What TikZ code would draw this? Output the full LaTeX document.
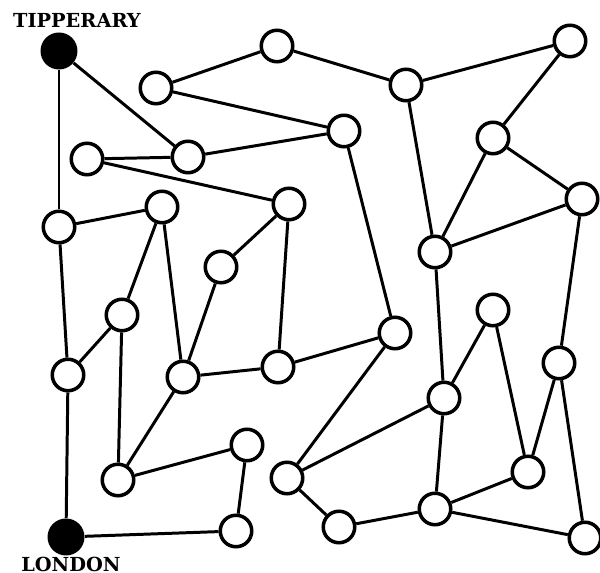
\documentclass[tikz,border=0pt]{standalone}
\usepackage{fontspec}
\usepackage{tikz}
\usetikzlibrary{positioning}
\newfontfamily\signfont{DejaVu Serif}

\begin{document}
\begin{tikzpicture}[
  x=0.02cm, y=-0.02cm,
  stop/.style={circle, draw=black, line width=2pt, fill=white, minimum size=0.63cm, inner sep=0pt},
  town/.style={circle, fill=black, minimum size=0.74cm, inner sep=0pt},
  lbl/.style={font=\signfont\fontsize{11}{11}\selectfont\bfseries, inner sep=0pt},
  road/.style={line width=1.7pt, black},
]
\useasboundingbox (0,0) rectangle (600,573);
% towns
\node[town] (tip) at (59,51) {};
\node[town] (lon) at (66,537) {};
\node[lbl] at (77,20) {TIPPERARY};
\node[lbl] at (71,564) {LONDON};
% stops, top rows
\node[stop] (a1) at (156,88) {};
\node[stop] (a2) at (277,46) {};
\node[stop] (a3) at (406,85) {};
\node[stop] (a4) at (570,41) {};
\node[stop] (b1) at (87,159) {};
\node[stop] (b2) at (188,157) {};
\node[stop] (b3) at (344,131) {};
\node[stop] (b4) at (493,138) {};
\node[stop] (c1) at (59,227) {};
\node[stop] (c2) at (162,207) {};
\node[stop] (c3) at (289,204) {};
\node[stop] (c4) at (582,199) {};
\node[stop] (c5) at (435,252) {};
\node[stop] (c6) at (221,267) {};
% middle rows
\node[stop] (d1) at (122,315) {};
\node[stop] (d2) at (395,333) {};
\node[stop] (d3) at (493,310) {};
\node[stop] (e1) at (68,375) {};
\node[stop] (e2) at (183,377) {};
\node[stop] (e3) at (278,367) {};
\node[stop] (e4) at (559,363) {};
\node[stop] (e5) at (444,398) {};
% bottom rows
\node[stop] (f1) at (247,445) {};
\node[stop] (f2) at (118,480) {};
\node[stop] (f3) at (287,478) {};
\node[stop] (f4) at (528,472) {};
\node[stop] (g1) at (339,527) {};
\node[stop] (g2) at (435,509) {};
\node[stop] (g3) at (236,531) {};
\node[stop] (g4) at (585,538) {};
% roads
\draw[road] (tip) -- (c1);
\draw[road] (tip) -- (b2);
\draw[road] (a1) -- (a2);
\draw[road] (a1) -- (b3);
\draw[road] (a2) -- (a3);
\draw[road] (a3) -- (a4);
\draw[road] (a3) -- (c5);
\draw[road] (a4) -- (b4);
\draw[road] (b4) -- (c5);
\draw[road] (b4) -- (c4);
\draw[road] (c5) -- (c4);
\draw[road] (b1) -- (b2);
\draw[road] (b1) -- (c3);
\draw[road] (b2) -- (b3);
\draw[road] (b3) -- (d2);
\draw[road] (c1) -- (c2);
\draw[road] (c1) -- (e1);
\draw[road] (c2) -- (d1);
\draw[road] (c2) -- (e2);
\draw[road] (c6) -- (c3);
\draw[road] (c6) -- (e2);
\draw[road] (c3) -- (e3);
\draw[road] (d1) -- (e1);
\draw[road] (d1) -- (f2);
\draw[road] (e2) -- (e3);
\draw[road] (e2) -- (f2);
\draw[road] (e3) -- (d2);
\draw[road] (f2) -- (f1);
\draw[road] (f1) -- (g3);
\draw[road] (e1) -- (lon);
\draw[road] (lon) -- (g3);
\draw[road] (d2) -- (f3);
\draw[road] (c5) -- (e5);
\draw[road] (e5) -- (d3);
\draw[road] (e5) -- (f3);
\draw[road] (e5) -- (g2);
\draw[road] (d3) -- (f4);
\draw[road] (e4) -- (f4);
\draw[road] (c4) -- (e4);
\draw[road] (e4) -- (g4);
\draw[road] (f3) -- (g1);
\draw[road] (g1) -- (g2);
\draw[road] (g2) -- (f4);
\draw[road] (g2) -- (g4);
\end{tikzpicture}
\end{document}
